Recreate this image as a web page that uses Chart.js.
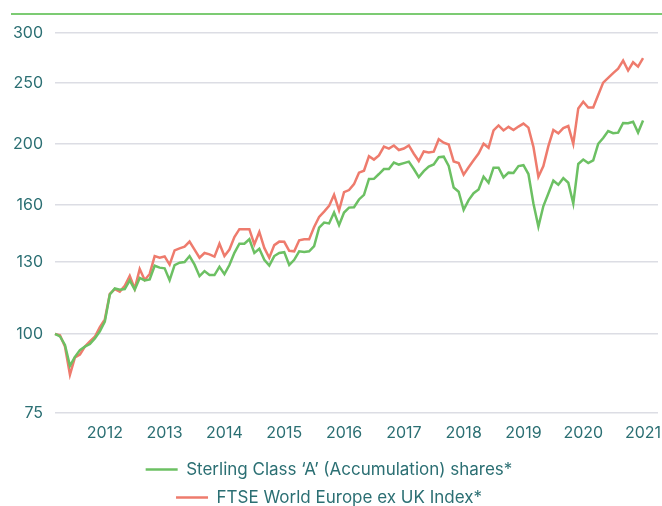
<!DOCTYPE html>
<html>
<head>
<meta charset="utf-8">
<script src="https://cdn.jsdelivr.net/npm/chart.js@4/dist/chart.umd.min.js"></script>
<style>
  html, body { margin: 0; padding: 0; background: #fff; overflow: hidden; }
  #wrap { position: relative; width: 662px; height: 516px; }
  #topline { position: absolute; top: 13px; left: 11px; right: 0; border-top: 2px solid #7ccb73; }
</style>
</head>
<body>
<div id="wrap">
  <div id="topline"></div>
  <canvas id="myChart"></canvas>
</div>
<script>
// Monthly values, Mar 2011 - Jan 2021, rebased to 100
const fundValues = [
    100, 99.1, 96.1, 89, 92, 94.3, 95.5, 96.4, 98.4, 101,
    104.6, 115.5, 118.1, 117.5, 117.8, 121.6, 117.6, 122.7, 121.6, 122,
    128.3, 127.4, 127.1, 121.7, 128.6, 129.7, 130, 132.9, 128.8, 123.5,
    125.8, 124, 124, 127.8, 124.4, 128.6, 134.5, 139, 139, 141.3,
    134.4, 136.5, 131.1, 128.4, 132.9, 134.4, 134.8, 128.6, 131.1, 135.2,
    134.9, 135.2, 137.8, 147.4, 150.2, 149.7, 155.8, 148.8, 155.8, 158.6,
    158.8, 163.4, 166.2, 176.1, 176.2, 179.3, 182.6, 182.6, 187, 185.6,
    186.6, 187.6, 182.6, 177.3, 181.2, 184.2, 185.7, 190.6, 191, 184.6,
    170.7, 168.1, 157.3, 163, 167.2, 169.5, 177.6, 173.7, 183.5, 183.5,
    177.1, 180.2, 180, 184.6, 185.2, 179.3, 161, 148, 159.5, 167,
    175, 172.4, 176.6, 173.7, 161, 186, 189, 186.6, 188.5, 200.2,
    204.5, 209.7, 208.1, 208.5, 216, 215.8, 217, 208.6, 218
];
const indexValues = [
    100, 99.5, 95.5, 86.2, 91.8, 92.8, 95.5, 97.3, 99, 102.5,
    105.5, 115.8, 117.8, 116.7, 119.2, 123.6, 118, 126.8, 121.8, 124.5,
    132.9, 132.1, 132.7, 128.8, 135.7, 136.7, 137.5, 140.1, 136.1, 132.1,
    134.4, 133.7, 132.6, 139, 132.9, 136.1, 142.5, 146.6, 146.6, 146.6,
    138.7, 145.1, 136.9, 132.1, 138.3, 140.1, 140, 135.5, 135.2, 140.8,
    141.3, 141.3, 147.8, 153.3, 156.3, 159.6, 166.2, 157, 167.8, 169.1,
    172.8, 180.2, 181.5, 191.4, 189, 191.9, 198.2, 196.7, 199, 195.7,
    196.8, 199, 193.1, 188, 194.7, 194, 194.5, 203.6, 201, 199.7,
    187.7, 186.7, 178.9, 183.8, 188.5, 193.2, 200.3, 197.3, 210.3, 214.1,
    210.2, 213, 210.5, 213.2, 215.5, 212.4, 198, 177.5, 184.6, 198.5,
    210.5, 208, 212, 213.6, 200.2, 227.8, 233.5, 228.6, 228.6, 239.3,
    250.3, 254.7, 259.2, 263.4, 271.2, 261.6, 269.6, 265.3, 273.7
];
const seriesNames = ['Sterling Class \u2018A\u2019 (Accumulation) shares*', 'FTSE World Europe ex UK Index*'];
const yTicks = [75, 100, 130, 160, 200, 250, 300];
const yearLabels = ['2012', '2013', '2014', '2015', '2016', '2017', '2018', '2019', '2020', '2021'];

// month categories Mar 2011 .. Apr 2021 (axis runs a little past the last point)
const months = [];
for (let y = 2011; y <= 2021; y++) {
    for (let m = 1; m <= 12; m++) {
        if (y === 2011 && m < 3) continue;
        if (y === 2021 && m > 4) break;
        months.push(y + '-' + String(m).padStart(2, '0'));
    }
}

const teal = '#2b6f73';
const green = '#6cc063';
const red = '#ee7b6d';

const ctx = document.getElementById('myChart').getContext('2d');
new Chart(ctx, {
    type: 'line',
    data: {
        labels: months,
        datasets: [
            {
                label: seriesNames[0],
                data: fundValues,
                borderColor: green,
                backgroundColor: green,
                borderWidth: 2.5,
                pointRadius: 0,
                tension: 0
            },
            {
                label: seriesNames[1],
                data: indexValues,
                borderColor: red,
                backgroundColor: red,
                borderWidth: 2.5,
                pointRadius: 0,
                tension: 0
            }
        ]
    },
    options: {
        responsive: true,
        maintainAspectRatio: false,
        animation: false,
        layout: { padding: { top: 33, left: 0, right: 4, bottom: 0 } },
        plugins: {
            tooltip: { enabled: false },
            legend: {
                position: 'bottom',
                labels: {
                    color: teal,
                    font: { family: 'Inter', size: 17 },
                    usePointStyle: true,
                    pointStyle: 'line',
                    pointStyleWidth: 32,
                    padding: 11
                }
            }
        },
        scales: {
            x: {
                type: 'category',
                offset: false,
                grid: { display: false },
                border: { display: false },
                afterFit: function(axis) {
                    // leave a little extra room under the year labels
                    axis.height += 4;
                },
                ticks: {
                    autoSkip: false,
                    maxRotation: 0,
                    padding: 3,
                    color: teal,
                    font: { family: 'Inter', size: 16 },
                    callback: function(value) {
                        const lab = months[value];
                        if (lab.endsWith('-01')) {
                            const yr = lab.slice(0, 4);
                            return yearLabels.includes(yr) ? yr : '';
                        }
                        return '';
                    }
                }
            },
            y: {
                type: 'logarithmic',
                min: 75,
                max: 300,
                afterBuildTicks: function(axis) {
                    axis.ticks = yTicks.map(v => ({ value: v }));
                },
                afterFit: function(axis) {
                    axis.width = 55;
                },
                grid: { color: '#dcdde4', lineWidth: 1.5, drawTicks: false },
                border: { display: false },
                ticks: {
                    padding: 12,
                    color: teal,
                    font: { family: 'Inter', size: 16 },
                    callback: function(value) {
                        return String(value);
                    }
                }
            }
        }
    }
});
</script>
</body>
</html>
